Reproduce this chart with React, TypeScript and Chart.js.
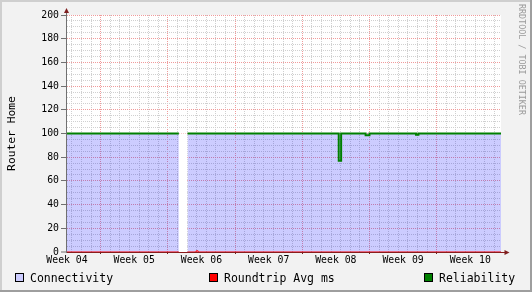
import React, { useEffect, useRef } from "react";
import { Chart, registerables } from "chart.js";

Chart.register(...registerables);

// x positions are in days; 0 is the first week boundary (major grid line)
const connectivityDays = [-3.5, 8.15, 8.6, 9.05, 41.7];
const connectivityValues = [100, 100, null, 100, 100];

const unknownDays = [8.15, 9.05];
const unknownValues = [100, 100];

const roundtripDays = [-3.5, 8.15, 8.6, 9.05, 9.95, 10.15, 41.7];
const roundtripValues = [0, 0, null, 0, 1, 0, 0];

const reliabilityDays = [-3.5, 8.15, 8.6, 9.05, 24.8, 25.05, 27.6, 28.0, 32.85, 33.1, 41.7];
const reliabilityValues = [100, 100, null, 100, 77, 100, 98.5, 100, 99, 100, 100];

const weekLabels = ["Week 04", "Week 05", "Week 06", "Week 07", "Week 08", "Week 09", "Week 10"];
const weekLabelDays = [-3.5, 3.5, 10.5, 17.5, 24.5, 31.5, 38.5];
const weekLineDays = [0, 7, 14, 21, 28, 35];
const yLabelValues = [0, 20, 40, 60, 80, 100, 120, 140, 160, 180, 200];

const legendLabels = ["Connectivity", "Roundtrip Avg ms", "Reliability"];
const legendColors = ["#ccccff", "#ff0000", "#008000"];
const yTitle = "Router Home";
const watermark = "RRDTOOL / TOBI OETIKER";

const X_MIN = -3.5;
const X_MAX = 41.7;
const FONT = '"DejaVu Sans Mono", monospace';
const MAJOR = "rgb(240,155,155)";
const MINOR = "rgb(208,208,208)";

const toXY = (xs: number[], ys: (number | null)[]) => xs.map((x, i) => ({ x, y: ys[i] }));
const isInt = (v: number) => Math.abs(v - Math.round(v)) < 1e-6;
const isWeekLine = (v: any) => typeof v === "number" && weekLineDays.some((d) => Math.abs(d - v) < 1e-6);

const rrdPlugin = {
  id: "rrdDecor",
  beforeDraw(chart: any) {
    const { ctx, width, height, chartArea: a } = chart;
    ctx.save();
    ctx.fillStyle = "#f2f2f2";
    ctx.fillRect(0, 0, width, height);
    ctx.fillStyle = "#cfcfcf";
    ctx.fillRect(0, 0, width, 2);
    ctx.fillRect(0, 0, 2, height);
    ctx.fillStyle = "#9e9e9e";
    ctx.fillRect(0, height - 2, width, 2);
    ctx.fillRect(width - 2, 0, 2, height);
    ctx.fillStyle = "#ffffff";
    ctx.fillRect(a.left, a.top, a.right - a.left, a.bottom - a.top);
    ctx.restore();
  },
  afterDatasetsDraw(chart: any) {
    const { ctx, chartArea: a } = chart;
    ctx.save();
    ctx.lineWidth = 1;
    // x axis
    ctx.strokeStyle = "#8a1c1c";
    ctx.beginPath();
    ctx.moveTo(a.left - 0.5, a.bottom + 0.5);
    ctx.lineTo(a.right + 4, a.bottom + 0.5);
    ctx.stroke();
    // y axis
    ctx.strokeStyle = "#707070";
    ctx.beginPath();
    ctx.moveTo(a.left - 0.5, a.bottom + 1);
    ctx.lineTo(a.left - 0.5, a.top - 2);
    ctx.stroke();
    // arrows
    ctx.fillStyle = "#7f1f1f";
    ctx.beginPath();
    ctx.moveTo(a.left - 0.5, a.top - 7);
    ctx.lineTo(a.left - 3, a.top - 2);
    ctx.lineTo(a.left + 2, a.top - 2);
    ctx.closePath();
    ctx.fill();
    ctx.beginPath();
    ctx.moveTo(a.right + 8.5, a.bottom + 0.5);
    ctx.lineTo(a.right + 3.5, a.bottom - 2);
    ctx.lineTo(a.right + 3.5, a.bottom + 3);
    ctx.closePath();
    ctx.fill();
    ctx.restore();
  },
  afterDraw(chart: any) {
    const { ctx, chartArea: a } = chart;
    ctx.save();
    // y title
    ctx.fillStyle = "#000";
    ctx.font = `11.3px ${FONT}`;
    ctx.textAlign = "center";
    ctx.textBaseline = "alphabetic";
    ctx.translate(14.5, (a.top + a.bottom) / 2);
    ctx.rotate(-Math.PI / 2);
    ctx.fillText(yTitle, 0, 0);
    ctx.restore();

    // watermark
    ctx.save();
    ctx.fillStyle = "#9a9a9a";
    ctx.font = `8.4px ${FONT}`;
    ctx.textAlign = "left";
    ctx.textBaseline = "alphabetic";
    ctx.translate(519, 4);
    ctx.rotate(Math.PI / 2);
    ctx.fillText(watermark, 0, 0);
    ctx.restore();

    // legend
    const boxX = [15, 209, 424];
    ctx.save();
    ctx.font = `11.5px ${FONT}`;
    ctx.textAlign = "left";
    ctx.textBaseline = "alphabetic";
    legendLabels.forEach((label, i) => {
      ctx.fillStyle = legendColors[i];
      ctx.fillRect(boxX[i], 273, 9, 9);
      ctx.strokeStyle = "#000";
      ctx.lineWidth = 1;
      ctx.strokeRect(boxX[i] + 0.5, 273.5, 8, 8);
      ctx.fillStyle = "#000";
      ctx.fillText(label, boxX[i] + 15, 282);
    });
    ctx.restore();
  },
};

export default function App() {
  const ref = useRef<HTMLCanvasElement | null>(null);

  useEffect(() => {
    if (!ref.current) return;
    const chart = new Chart(ref.current, {
      type: "line",
      data: {
        datasets: [
          {
            label: legendLabels[2],
            data: toXY(reliabilityDays, reliabilityValues),
            borderColor: legendColors[2],
            borderWidth: 2,
            stepped: "before",
            pointRadius: 0,
            fill: false,
            order: 0,
          },
          {
            label: legendLabels[1],
            data: toXY(roundtripDays, roundtripValues),
            borderColor: legendColors[1],
            borderWidth: 1,
            stepped: "before",
            pointRadius: 0,
            fill: false,
            order: 1,
          },
          {
            label: legendLabels[0],
            data: toXY(connectivityDays, connectivityValues),
            borderColor: "rgba(0,0,0,0)",
            borderWidth: 0,
            backgroundColor: "rgba(0,0,255,0.2)",
            pointRadius: 0,
            fill: "origin",
            order: 2,
          },
          {
            label: "unknown",
            data: toXY(unknownDays, unknownValues),
            borderColor: "rgba(0,0,0,0)",
            borderWidth: 0,
            backgroundColor: "#ffffff",
            pointRadius: 0,
            fill: "origin",
            order: 3,
          },
        ],
      },
      options: {
        animation: false,
        responsive: false,
        devicePixelRatio: 1,
        events: [],
        layout: { padding: { top: 15, right: 31, left: 0, bottom: 0 } },
        plugins: { legend: { display: false }, tooltip: { enabled: false } },
        scales: {
          x: {
            type: "linear",
            min: X_MIN,
            max: X_MAX,
            afterBuildTicks: (scale: any) => {
              const vals: number[] = [];
              for (let d = Math.ceil(X_MIN); d <= Math.floor(X_MAX); d++) vals.push(d);
              weekLabelDays.forEach((v) => vals.push(v));
              vals.sort((p, q) => p - q);
              scale.ticks = vals.map((value) => ({ value }));
            },
            afterFit: (scale: any) => {
              scale.height = 40;
            },
            ticks: {
              autoSkip: false,
              maxRotation: 0,
              minRotation: 0,
              padding: 1,
              color: "#000",
              font: { family: FONT, size: 9.8 },
              callback: (v: any) => {
                const i = weekLabelDays.indexOf(Number(v));
                return i >= 0 ? weekLabels[i] : "";
              },
            },
            grid: {
              color: (c: any) => (isWeekLine(c.tick?.value) ? MAJOR : MINOR),
              lineWidth: (c: any) => (c.tick && isInt(c.tick.value) ? 1 : 0),
              drawTicks: true,
              tickLength: 2,
              tickWidth: (c: any) => (isWeekLine(c.tick?.value) ? 1 : 0),
              tickColor: "#6a2020",
            },
            border: { display: false, dash: [1, 1] },
          },
          y: {
            type: "linear",
            min: 0,
            max: 200,
            afterBuildTicks: (scale: any) => {
              const vals: number[] = [];
              for (let v = 0; v <= 200; v += 5) vals.push(v);
              scale.ticks = vals.map((value) => ({ value }));
            },
            afterFit: (scale: any) => {
              scale.width = 67;
            },
            ticks: {
              autoSkip: false,
              padding: 2,
              color: "#000",
              font: { family: FONT, size: 9.8 },
              callback: (v: any) => (yLabelValues.includes(Number(v)) ? String(v) : ""),
            },
            grid: {
              color: (c: any) => (c.tick && c.tick.value % 20 === 0 ? MAJOR : MINOR),
              lineWidth: (c: any) => (c.tick && c.tick.value === 0 ? 0 : 1),
              drawTicks: true,
              tickLength: 6,
              tickWidth: (c: any) => (c.tick && c.tick.value % 20 === 0 ? 1 : 0),
              tickColor: "#707070",
            },
            border: { display: false, dash: [1, 1] },
          },
        },
      },
      plugins: [rrdPlugin],
    } as any);
    return () => chart.destroy();
  }, []);

  return (
    <div style={{ position: "fixed", left: 0, top: 0, width: 532, height: 292 }}>
      <canvas ref={ref} width={532} height={292} style={{ display: "block" }} />
    </div>
  );
}
